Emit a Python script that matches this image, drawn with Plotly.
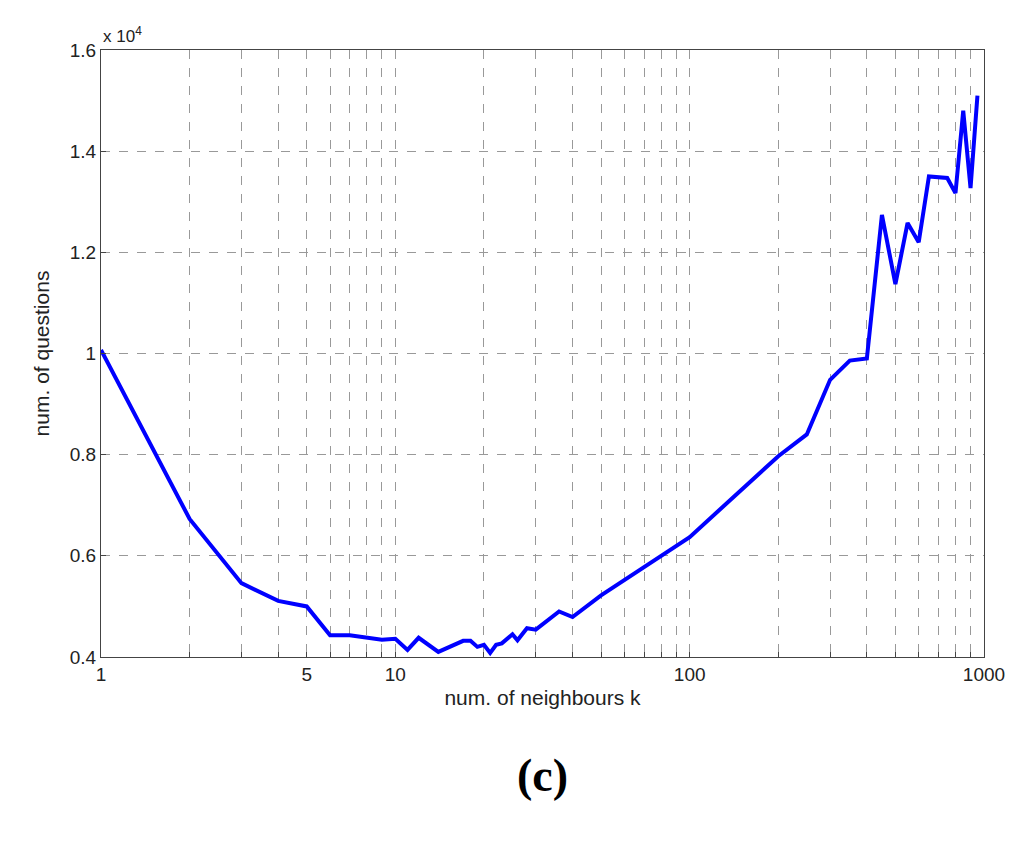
import plotly.graph_objects as go

# datos (k, num. preguntas / 1e4)
k = [1, 2, 3, 4, 5, 6, 7, 9, 10, 11, 12, 14, 17, 18, 19, 20, 21, 22, 23, 25, 26, 28, 30,
     36, 40, 50, 100, 200, 250, 300, 350, 400, 450, 500, 550, 600, 650, 750, 800, 850, 900, 950]
preguntas = [1.007, 0.673, 0.546, 0.511, 0.50, 0.443, 0.443, 0.434, 0.436, 0.414, 0.438, 0.41,
             0.432, 0.432, 0.42, 0.424, 0.408, 0.424, 0.427, 0.445, 0.433, 0.457, 0.454,
             0.49, 0.479, 0.522, 0.637, 0.797, 0.84, 0.948, 0.986, 0.99, 1.274, 1.137, 1.258,
             1.22, 1.35, 1.347, 1.317, 1.48, 1.327, 1.51]

xticks = [1, 2, 3, 4, 5, 6, 7, 8, 9, 10, 20, 30, 40, 50, 60, 70, 80, 90, 100,
          200, 300, 400, 500, 600, 700, 800, 900, 1000]
xlabels = {1: "1", 5: "5", 10: "10", 100: "100", 1000: "1000"}
yticks = [0.4, 0.6, 0.8, 1.0, 1.2, 1.4, 1.6]
ylabels = ["0.4", "0.6", "0.8", "1", "1.2", "1.4", "1.6"]

fig = go.Figure()
fig.add_trace(go.Scatter(x=k, y=preguntas, mode="lines", line=dict(color="#0000ff", width=4)))

eje = dict(showline=True, linecolor="#444", linewidth=1, mirror=True, ticks="inside",
           ticklen=5, tickcolor="#444", gridcolor="#999", griddash="dash", gridwidth=1,
           zeroline=False, tickfont=dict(family="Liberation Sans, Arial", size=19, color="#222"))
fig.update_layout(
    width=1024, height=843, plot_bgcolor="white", paper_bgcolor="white", showlegend=False,
    margin=dict(l=93, r=48, t=42, b=194),
    xaxis=dict(type="log", range=[0, 3], tickmode="array", tickvals=xticks,
               ticktext=[xlabels.get(v, "") for v in xticks],
               title=dict(text="num. of neighbours k", standoff=6,
                          font=dict(family="Liberation Sans, Arial", size=21, color="#222")), **eje),
    yaxis=dict(range=[0.4, 1.6], tickmode="array", tickvals=yticks, ticktext=ylabels,
               title=dict(text="num. of questions", standoff=14,
                          font=dict(family="Liberation Sans, Arial", size=21, color="#222")), **eje),
)
fig.add_annotation(x=0, y=1, xref="paper", yref="paper", xanchor="left", yanchor="bottom",
                   text="x 10<sup>4</sup>", showarrow=False, yshift=2,
                   font=dict(family="Liberation Sans, Arial", size=17, color="#222"))
fig.add_annotation(x=0.5, y=-0.24, xref="paper", yref="paper", text="<b>(c)</b>", showarrow=False,
                   font=dict(family="Liberation Serif, Times New Roman", size=46, color="black"))
fig.write_html("out.html")
